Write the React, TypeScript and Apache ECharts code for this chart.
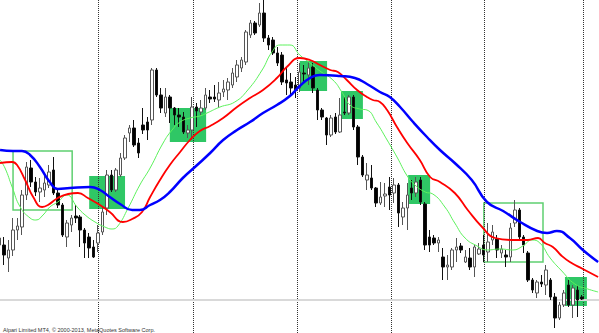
import { useEffect, useRef } from "react";
import * as echarts from "echarts";

// Price bars (points), one entry per bar index
const open = [
  88, 88, 75, 83, 103, 106, 138, 165, 151, 141,
  143, 148, 163, 140, 128, 96, 108, 117, 116, 103,
  96, 86, 90, 101, 125, 158, 143, 158, 175, 200,
  205, 190, 208, 211, 213, 263, 238, 220, 236, 225,
  218, 216, 200, 203, 226, 221, 225, 236, 236, 233,
  241, 243, 248, 256, 265, 271, 298, 310, 308, 320,
  295, 293, 280, 278, 253, 251, 248, 245, 260, 258,
  266, 243, 223, 215, 198, 216, 201, 221, 220, 236,
  206, 176, 153, 155, 145, 130, 137, 146, 140, 148,
  116, 125, 145, 140, 153, 129, 96, 95, 90, 76,
  66, 66, 83, 87, 71, 75, 66, 79, 88, 81,
  93, 94, 80, 78, 76, 110, 123, 96, 80, 53,
  40, 51, 48, 53, 36, 15, 28, 48, 28, 43,
  36,
];
const close = [
  95, 78, 83, 103, 107, 138, 166, 151, 141, 145,
  150, 161, 140, 128, 98, 110, 115, 115, 103, 90,
  85, 76, 100, 121, 158, 143, 163, 175, 195, 205,
  188, 180, 203, 203, 263, 238, 225, 236, 225, 218,
  216, 201, 203, 226, 222, 225, 238, 234, 234, 240,
  244, 251, 260, 268, 273, 301, 310, 300, 320, 295,
  288, 280, 270, 251, 250, 245, 243, 261, 259, 265,
  245, 223, 216, 198, 215, 201, 218, 220, 236, 206,
  176, 158, 158, 145, 130, 136, 139, 138, 148, 120,
  125, 138, 140, 151, 131, 88, 88, 90, 93, 66,
  68, 83, 86, 83, 76, 66, 86, 84, 78, 91,
  101, 83, 84, 76, 105, 123, 96, 88, 53, 43,
  51, 49, 63, 36, 15, 28, 40, 28, 45, 33,
  34,
];
const low = [
  75, 68, 61, 77, 93, 98, 133, 146, 137, 131,
  136, 145, 138, 125, 96, 86, 101, 110, 86, 75,
  75, 75, 81, 98, 118, 141, 141, 156, 173, 191,
  186, 175, 199, 193, 208, 236, 220, 216, 210, 208,
  206, 199, 195, 193, 206, 218, 223, 230, 231, 225,
  236, 233, 245, 251, 261, 268, 295, 298, 306, 291,
  283, 278, 267, 248, 238, 238, 235, 241, 251, 248,
  240, 213, 213, 188, 196, 199, 200, 218, 218, 203,
  168, 156, 143, 143, 126, 128, 126, 123, 130, 106,
  108, 103, 133, 136, 128, 83, 81, 88, 81, 53,
  53, 63, 71, 80, 70, 63, 56, 78, 71, 71,
  88, 75, 75, 66, 71, 106, 93, 80, 51, 40,
  35, 46, 38, 33, 5, 13, 26, 26, 15, 16,
  33,
];
const high = [
  105, 96, 93, 115, 115, 143, 171, 173, 156, 155,
  160, 168, 176, 143, 130, 113, 118, 128, 118, 105,
  100, 93, 108, 126, 163, 163, 165, 180, 198, 208,
  213, 195, 225, 216, 265, 265, 245, 245, 238, 226,
  225, 221, 208, 236, 230, 233, 245, 243, 248, 251,
  253, 255, 265, 273, 276, 303, 313, 312, 330, 333,
  298, 296, 286, 281, 265, 260, 256, 270, 268, 271,
  270, 245, 225, 216, 218, 220, 235, 236, 238, 238,
  208, 178, 170, 168, 146, 151, 150, 156, 155, 150,
  131, 150, 153, 156, 156, 131, 103, 98, 96, 85,
  78, 85, 95, 90, 83, 85, 88, 90, 98, 110,
  108, 98, 88, 83, 110, 133, 125, 98, 82, 55,
  53, 58, 68, 55, 40, 31, 43, 53, 48, 48,
  38,
];

// Moving averages, [bar, value]; shifted forward past the last bar
const maFast = [
  [0.1, 173], [1.2, 165], [2.8, 146], [4.6, 126], [6.8, 115], [8.1, 113], [9.7, 118],
  [11.2, 126], [13, 131], [15, 138], [17.3, 126], [19.1, 118], [21.3, 111], [23.5, 106],
  [25.1, 104], [26.4, 107], [28.7, 125], [31.3, 148], [33.6, 165], [36.5, 190], [38.5, 203],
  [40.3, 211], [42.5, 215], [44.7, 217], [46.3, 220], [49.2, 226], [52.5, 231], [55.4, 243],
  [58.6, 263], [60.8, 281], [62.6, 288], [64.8, 288], [67, 278], [69.3, 270], [71.5, 262],
  [74.4, 253], [76.4, 241], [78.2, 228], [80.4, 224], [82, 223], [84.2, 210], [86.5, 193],
  [88.7, 176], [91, 157], [92.7, 148], [95, 141], [96.7, 139], [99.4, 126], [101.6, 110],
  [103.9, 95], [106.6, 87], [108.8, 83], [111.7, 84], [114.6, 83], [116.8, 87], [118.8, 93],
  [120.6, 90], [122.9, 75], [125.5, 62], [128.4, 49], [131.3, 44], [133.6, 41],
];
const maMid = [
  [0.1, 170], [2.8, 171], [3.9, 168], [5.7, 153], [7.5, 136], [9.5, 126], [10.8, 128],
  [13, 135], [15.3, 139], [17.5, 140], [19.7, 135], [22.4, 128], [24.6, 121], [27.5, 111],
  [29.6, 114], [31.8, 121], [33.6, 136], [35.8, 153], [38, 168], [40.3, 181], [42.5, 193],
  [44.7, 202], [47, 207], [49.9, 215], [53, 226], [55.9, 235], [58.8, 243], [61.9, 255],
  [64.1, 266], [67, 275], [69.3, 273], [71.5, 268], [73.8, 263], [75.5, 261], [77.5, 253],
  [79.8, 243], [82, 236], [83.3, 233], [84.9, 231], [86.5, 223], [88.7, 206], [91, 190],
  [93.8, 173], [96.1, 156], [98.3, 151], [101.6, 140], [104.5, 123], [107.7, 106],
  [110.6, 95], [114.4, 93], [117.9, 93], [120.2, 95], [121.7, 90], [123.5, 86],
  [125.5, 77], [127.3, 71], [130.2, 64], [133.6, 56],
];
const maSlow = [
  [0.1, 183], [3, 182], [5, 182], [6.8, 178], [9, 166], [11.2, 151], [13, 144],
  [15.7, 145], [20.2, 146], [22.4, 143], [24.6, 136], [26.9, 129], [29.6, 123],
  [31.3, 123], [33.6, 128], [35.8, 133], [38, 141], [40.9, 155], [44.1, 168], [47, 180],
  [49.9, 193], [53, 203], [55.9, 211], [58.8, 220], [61.9, 228], [64.8, 237], [67, 247],
  [69.3, 255], [71.5, 258], [76, 257], [79.3, 255], [82, 249], [84.9, 241], [87.1, 236],
  [89.4, 226], [92.3, 211], [95.4, 196], [98.3, 183], [101.6, 170], [105.4, 153],
  [108.8, 131], [112.4, 122], [116.2, 111], [120, 102], [122.2, 100], [124.4, 102],
  [127.3, 95], [130.2, 83], [133.6, 71],
];

// Highlighted zones: [fromBar, toBar, lowValue, highValue]
const filledZones = [
  [20.0, 28.0, 124, 157],
  [38.0, 46.1, 191, 225],
  [67.0, 73.1, 242, 272],
  [76.2, 81.1, 214, 242],
  [91.2, 96.1, 129, 158],
  [126.2, 131.1, 27, 56],
];
const outlinedZones = [
  [3.0, 16.2, 123, 182],
  [108.1, 121.3, 71, 130],
];

// Period separators (bar position) and the bid level
const separators = [22.0, 43.2, 66.4, 87.4, 108.1, 130.2];
const bidLevel = 33;

const footer = "Alpari Limited MT4, © 2000-2013, MetaQuotes Software Corp.";

export default function App() {
  const ref = useRef<HTMLDivElement>(null);

  useEffect(() => {
    const el = ref.current;
    if (!el) return;
    const chart = echarts.init(el, null, { renderer: "svg" });

    const candleData = open.map((o, i) => [i, o, close[i], low[i], high[i]]);

    const zoneData = [
      ...filledZones.map(([x0, x1, v0, v1]) => [
        {
          xAxis: x0,
          yAxis: v0,
          itemStyle: { color: "#2fc765", borderWidth: 0 },
        },
        { xAxis: x1, yAxis: v1 },
      ]),
      ...outlinedZones.map(([x0, x1, v0, v1]) => [
        {
          xAxis: x0,
          yAxis: v0,
          itemStyle: {
            color: "rgba(0,0,0,0)",
            borderColor: "#5fd070",
            borderWidth: 1.5,
          },
        },
        { xAxis: x1, yAxis: v1 },
      ]),
    ];

    const maLine = (data: number[][], color: string, width: number) => ({
      type: "line",
      data,
      smooth: 0.5,
      showSymbol: false,
      symbol: "none",
      silent: true,
      z: 3,
      lineStyle: { color, width },
    });

    chart.setOption({
      animation: false,
      backgroundColor: "#ffffff",
      grid: { left: 0, right: 0, top: 0, bottom: 0 },
      xAxis: { type: "value", min: 0.09, max: 133.8, show: false },
      yAxis: { type: "value", min: 0, max: 333, show: false },
      series: [
        {
          type: "line",
          data: [],
          silent: true,
          z: 1,
          markArea: { silent: true, z: 1, data: zoneData },
          markLine: {
            silent: true,
            z: 1,
            symbol: "none",
            label: { show: false },
            data: [
              ...separators.map((x) => ({
                xAxis: x,
                lineStyle: { color: "#333", width: 1, type: [1, 1] },
              })),
              {
                yAxis: bidLevel,
                lineStyle: { color: "#d9d9d9", width: 2, type: "solid" },
              },
            ],
          },
        },
        {
          type: "candlestick",
          data: candleData,
          encode: { x: 0, y: [1, 2, 3, 4] },
          barWidth: 3,
          silent: true,
          z: 2,
          itemStyle: {
            color: "#ffffff",
            color0: "#000000",
            borderColor: "#555555",
            borderColor0: "#111111",
            borderWidth: 1,
          },
        },
        maLine(maFast, "#5cf25c", 1),
        maLine(maMid, "#ff0000", 1.8),
        maLine(maSlow, "#0000ff", 2.5),
      ],
      graphic: [
        {
          type: "text",
          left: 3,
          top: 326.5,
          silent: true,
          style: {
            text: footer,
            fontSize: 5.5,
            fontFamily: "Liberation Sans, Arial, sans-serif",
            fill: "#333333",
          },
        },
      ],
    });

    return () => chart.dispose();
  }, []);

  return (
    <div
      ref={ref}
      style={{
        position: "absolute",
        left: 0,
        top: 0,
        width: 599,
        height: 333,
        overflow: "hidden",
      }}
    />
  );
}
